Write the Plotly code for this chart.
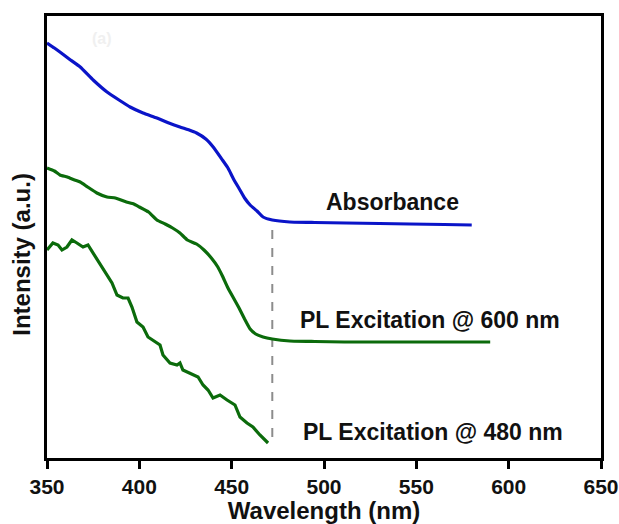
import plotly.graph_objects as go

# Absorbance (blue)
abs_x = [350, 354, 357, 362, 368, 375, 382.5, 389, 395, 402, 409.5, 416, 422, 427, 431, 436, 440,
         445, 448, 451, 454.5, 457, 460, 463.7, 467, 472, 481.5, 495, 512, 530, 546.5, 565, 580]
abs_y = [415, 410, 406, 399, 391, 378, 366, 358, 351, 345, 340, 335, 331, 328, 325, 319, 311,
         298, 290, 279, 268, 260, 253, 247, 241, 238, 236, 235.5, 235, 234.5, 234, 233.5, 233]

# PL excitation @ 600 nm (green)
pl600_x = [350, 354, 357, 361, 365, 368, 372, 377, 382.5, 387, 393, 397, 400, 405, 409.5, 414, 418,
           422, 426, 431, 435, 439, 442.5, 445, 448, 451, 454, 457, 460, 463, 467, 472, 481.5,
           495, 511, 530, 550, 570, 590]
pl600_y = [290, 287, 283, 281, 278, 276, 271, 265, 261, 260, 256, 254, 251, 246, 238, 234, 230,
           225, 218, 214, 208, 200, 191, 182, 170, 160, 150, 139, 129, 124, 121, 119, 117,
           116.5, 116, 116, 116, 116, 116]

# PL excitation @ 480 nm (green, noisy)
pl480_x = [350.0, 353.2, 356.0, 358.1, 360.8, 363.5, 366.2, 369.5, 372.2, 374.9, 378.7, 382.5,
           385.2, 387.9, 391.1, 393.9, 396.0, 398.7, 402.0, 404.7, 408.5, 411.2, 412.8, 416.6,
           420.4, 422.0, 423.6, 427.4, 431.8, 434.5, 437.2, 439.9, 443.7, 447.5, 451.8, 454.5,
           458.3, 461.5, 465.3, 469.7]
pl480_y = [208, 215, 213, 208, 211, 218, 215, 211, 213, 205, 195, 183,
           175, 163, 160, 160, 151, 136, 131, 121, 116, 113, 103, 95,
           93, 95, 88, 85, 81, 73, 68, 60, 63, 58, 53, 41,
           35, 31, 23, 15]

# Onset marker
onset_x = [472, 472]
onset_y = [228, 18]

x_ticks = [350, 400, 450, 500, 550, 600, 650]

font_family = "Liberation Sans, Arial, sans-serif"
blue = "#0a14c8"
green = "#0b6b0b"
txt = "#111111"

fig = go.Figure()
fig.add_trace(go.Scatter(x=onset_x, y=onset_y, mode="lines",
                         line=dict(color="#8c8c8c", width=2, dash="dash"), showlegend=False))
fig.add_trace(go.Scatter(x=abs_x, y=abs_y, mode="lines", name="Absorbance",
                         line=dict(color=blue, width=3.2, shape="spline", smoothing=0.4), showlegend=False))
fig.add_trace(go.Scatter(x=pl600_x, y=pl600_y, mode="lines", name="PL Excitation @ 600 nm",
                         line=dict(color=green, width=3.2, shape="spline", smoothing=0.4), showlegend=False))
fig.add_trace(go.Scatter(x=pl480_x, y=pl480_y, mode="lines", name="PL Excitation @ 480 nm",
                         line=dict(color=green, width=3.2), showlegend=False))

lbl = dict(family=font_family, size=23, color=txt, weight="bold")
fig.add_annotation(x=537, y=256, text="Absorbance", showarrow=False, font=lbl)
fig.add_annotation(x=557.5, y=138, text="PL Excitation @ 600 nm", showarrow=False, font=lbl)
fig.add_annotation(x=559, y=26, text="PL Excitation @ 480 nm", showarrow=False, font=lbl)
fig.add_annotation(x=380, y=420, text="(a)", showarrow=False,
                   font=dict(family=font_family, size=16, color="#f0f0f0", weight="bold"))
fig.add_annotation(xref="paper", yref="paper", x=-0.045, y=0.46, xanchor="center", yanchor="middle",
                   text="Intensity (a.u.)", textangle=-90, showarrow=False,
                   font=dict(family=font_family, size=24, color=txt, weight="bold"))

fig.update_layout(
    width=619, height=524,
    margin=dict(l=47, r=18, t=16, b=66, autoexpand=False),
    paper_bgcolor="white", plot_bgcolor="white",
    font=dict(family=font_family, color=txt),
    xaxis=dict(range=[350, 650], tickvals=x_ticks, ticktext=[str(v) for v in x_ticks],
               showline=True, linecolor="black", linewidth=3, mirror=True,
               ticks="outside", ticklen=8, tickwidth=2.5, tickcolor="black",
               showgrid=False, zeroline=False, automargin=False, ticklabeloverflow="allow",
               tickfont=dict(family=font_family, size=21, color=txt, weight="bold"),
               title=dict(text="Wavelength (nm)", standoff=1,
                          font=dict(family=font_family, size=24, color=txt, weight="bold"))),
    yaxis=dict(range=[0, 442], showline=True, linecolor="black", linewidth=3, mirror=True,
               showticklabels=False, ticks="", showgrid=False, zeroline=False, automargin=False),
)

fig.write_html("out.html", config={"displayModeBar": False},
               post_script="document.body.style.margin='0';document.body.style.overflow='hidden';")
